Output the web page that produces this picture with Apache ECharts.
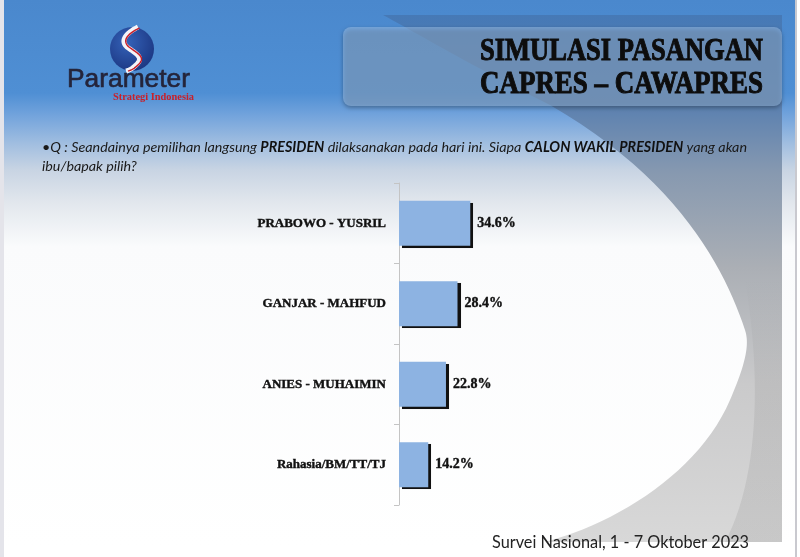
<!DOCTYPE html>
<html><head><meta charset="utf-8">
<script src="https://cdn.jsdelivr.net/npm/echarts@6/dist/echarts.min.js"></script>
<style>html,body{margin:0;padding:0;background:#fff}#c{width:800px;height:557px}</style>
</head><body><div id="c"></div>
<script>
const categories = ['PRABOWO - YUSRIL', 'GANJAR - MAHFUD', 'ANIES - MUHAIMIN', 'Rahasia/BM/TT/TJ'];
const values = [34.6, 28.4, 22.8, 14.2];
const titleLines = ['SIMULASI PASANGAN', 'CAPRES \u2013 CAWAPRES'];
const footer = 'Survei Nasional, 1 - 7 Oktober 2023';

function shapePts(start, segs) {
  const pts = [start.slice()];
  let cur = start.slice();
  segs.forEach(s => {
    if (s.length === 2) { pts.push(s.slice()); cur = s.slice(); return; }
    const [c1, c2, e] = s;
    for (let i = 1; i <= 24; i++) {
      const t = i / 24, u = 1 - t;
      pts.push([u*u*u*cur[0] + 3*u*u*t*c1[0] + 3*u*t*t*c2[0] + t*t*t*e[0],
                u*u*u*cur[1] + 3*u*u*t*c1[1] + 3*u*t*t*c2[1] + t*t*t*e[1]]);
    }
    cur = e.slice();
  });
  return pts;
}
const mctx = document.createElement('canvas').getContext('2d');
function fitScale(text, font, w) { mctx.font = font; return w / mctx.measureText(text).width; }

const swoosh = shapePts([383, 15], [[782, 15], [782, 542], [545, 542],
  [[620, 522], [700, 470], [730, 400]], [[745, 365], [750, 345], [745, 330]],
  [[725, 270], [680, 180], [550, 105]], [[470, 65], [420, 35], [383, 15]]]);
const darkBand = shapePts([745, 280], [[[762, 380], [758, 480], [725, 542]], [782, 542], [782, 280]]);
const sWhite = shapePts([138, 27], [[[128, 32], [119, 40], [127, 47]], [[135, 53], [144, 57], [137, 64]], [[133, 68], [130, 70], [126, 71]]]);
const sRed = shapePts([139.5, 28], [[[129, 33], [121, 40], [129, 47]], [[137, 53], [146, 57], [139, 64]], [[135, 68], [132, 70], [128, 71]]]);

const titleFont = 'bold 32px "Liberation Serif", "DejaVu Serif", serif';
const logoFont = '26px "Liberation Sans", "DejaVu Sans", sans-serif';
const subFont = 'bold 10px "Liberation Serif", serif';

const chart = echarts.init(document.getElementById('c'), null, {renderer: 'canvas'});
const qFont = 'Lato, "Open Sans", sans-serif';
const option = {
  backgroundColor: '#ffffff',
  animation: false,
  graphic: [
    {type: 'rect', z: 0, shape: {x: 0, y: 0, width: 4, height: 557}, style: {fill: '#e4e4ea'}},
    {type: 'rect', z: 0, shape: {x: 4, y: 0, width: 791, height: 548}, style: {
      fill: new echarts.graphic.LinearGradient(0, 0, 0, 1, [
        {offset: 0, color: '#4a88cd'}, {offset: 0.17, color: '#4f8fd4'},
        {offset: 0.21, color: '#72a3dc'}, {offset: 0.26, color: '#9fbde0'},
        {offset: 0.31, color: '#c8d4e3'}, {offset: 0.37, color: '#e2e7ed'},
        {offset: 0.45, color: '#fafbfc'}, {offset: 1, color: '#ffffff'}])}},
    {type: 'polygon', z: 0, shape: {points: swoosh},
      style: {fill: new echarts.graphic.LinearGradient(0, 0, 0, 1, [
        {offset: 0, color: '#4679b6'}, {offset: 0.17, color: '#5a80b0'},
        {offset: 0.3, color: '#8799b0'}, {offset: 0.48, color: '#abafb5'},
        {offset: 0.7, color: '#cacacb'}, {offset: 1, color: '#d8d8d8'}])}},
    {type: 'polygon', z: 0, shape: {points: darkBand}, style: {
      fill: new echarts.graphic.LinearGradient(0, 0, 0, 1, [
        {offset: 0, color: 'rgba(110,110,110,0)'}, {offset: 0.4, color: 'rgba(110,110,110,0.13)'},
        {offset: 1, color: 'rgba(110,110,110,0.15)'}])}},
    {type: 'rect', z: 0, shape: {x: 795, y: 0, width: 2, height: 557}, style: {fill: '#c9c9cf'}},
    {type: 'rect', z: 1, shape: {x: 343, y: 27, width: 439, height: 79, r: 8},
      style: {fill: 'rgba(160,195,236,0.5)', shadowBlur: 4, shadowOffsetY: 2, shadowColor: 'rgba(0,0,0,0.6)'}},
    {type: 'text', z: 2, x: 763, y: 51.5, scaleX: fitScale(titleLines[0], titleFont, 283),
      style: {x: 0, y: 0, text: titleLines[0], textAlign: 'right', textVerticalAlign: 'middle', font: titleFont,
        fill: '#0d0d0d', stroke: '#0d0d0d', lineWidth: 1}},
    {type: 'text', z: 2, x: 763, y: 85, scaleX: fitScale(titleLines[1], titleFont, 283),
      style: {x: 0, y: 0, text: titleLines[1], textAlign: 'right', textVerticalAlign: 'middle', font: titleFont,
        fill: '#0d0d0d', stroke: '#0d0d0d', lineWidth: 1}},
    {type: 'circle', z: 2, shape: {cx: 132, cy: 49, r: 22}, style: {
      fill: new echarts.graphic.RadialGradient(0.4, 0.35, 0.8, [{offset: 0, color: '#3462b8'}, {offset: 1, color: '#18307a'}])}},
    {type: 'polyline', z: 3, shape: {points: sWhite}, style: {fill: null, stroke: '#f4f4f8', lineWidth: 5}},
    {type: 'polyline', z: 3, shape: {points: sRed}, style: {fill: null, stroke: '#c8202a', lineWidth: 1.5}},
    {type: 'text', z: 3, x: 67, y: 79.5, scaleX: fitScale('Parameter', logoFont, 123),
      style: {x: 0, y: 0, text: 'Parameter', textAlign: 'left', textVerticalAlign: 'middle',
        font: logoFont, fill: '#24243a', stroke: '#24243a', lineWidth: 0.6}},
    {type: 'text', z: 3, x: 113, y: 97.5, scaleX: fitScale('Strategi Indonesia', subFont, 81),
      style: {x: 0, y: 0, text: 'Strategi Indonesia', textAlign: 'left', textVerticalAlign: 'middle',
        font: subFont, fill: '#c8202a'}},
    {type: 'text', z: 3, style: {x: 42, y: 147, textVerticalAlign: 'middle',
      text: '{n|\u2022Q : Seandainya pemilihan langsung }{b|PRESIDEN}{n| dilaksanakan pada hari ini. Siapa }{b|CALON WAKIL PRESIDEN}{n| yang akan}',
      rich: {n: {font: 'italic 14.3px ' + qFont, fill: '#1a1a1a'}, b: {font: 'italic bold 14.3px ' + qFont, fill: '#111'}}}},
    {type: 'text', z: 3, style: {x: 42, y: 166, textVerticalAlign: 'middle', text: 'ibu/bapak pilih?',
      font: 'italic 14.3px ' + qFont, fill: '#1a1a1a'}},
    {type: 'text', z: 3, style: {x: 492, y: 543, textVerticalAlign: 'middle', text: footer,
      font: '16.3px ' + qFont, fill: '#222'}}
  ],
  grid: {left: 399, top: 183, width: 206, height: 322},
  xAxis: {type: 'value', min: 0, max: 100, show: false},
  yAxis: {
    type: 'category', data: categories, inverse: true,
    axisLine: {show: true, lineStyle: {color: '#c4c4c4', width: 1}},
    axisTick: {show: true, length: 5, lineStyle: {color: '#c4c4c4'}},
    axisLabel: {margin: 13, color: '#111', fontFamily: '"Liberation Serif", serif', fontWeight: 'bold', fontSize: 13,
      textBorderColor: '#111', textBorderWidth: 0.4}
  },
  series: [{
    type: 'bar', data: values, barWidth: '56%', z: 5,
    itemStyle: {color: '#8db3e2', shadowColor: '#111', shadowOffsetX: 3, shadowOffsetY: 2, shadowBlur: 0.5},
    label: {show: true, position: 'right', distance: 7, formatter: '{c}%', color: '#111',
      fontFamily: '"Liberation Serif", serif', fontWeight: 'bold', fontSize: 14,
      textBorderColor: '#111', textBorderWidth: 0.4}
  }]
};
chart.setOption(option);
</script></body></html>
